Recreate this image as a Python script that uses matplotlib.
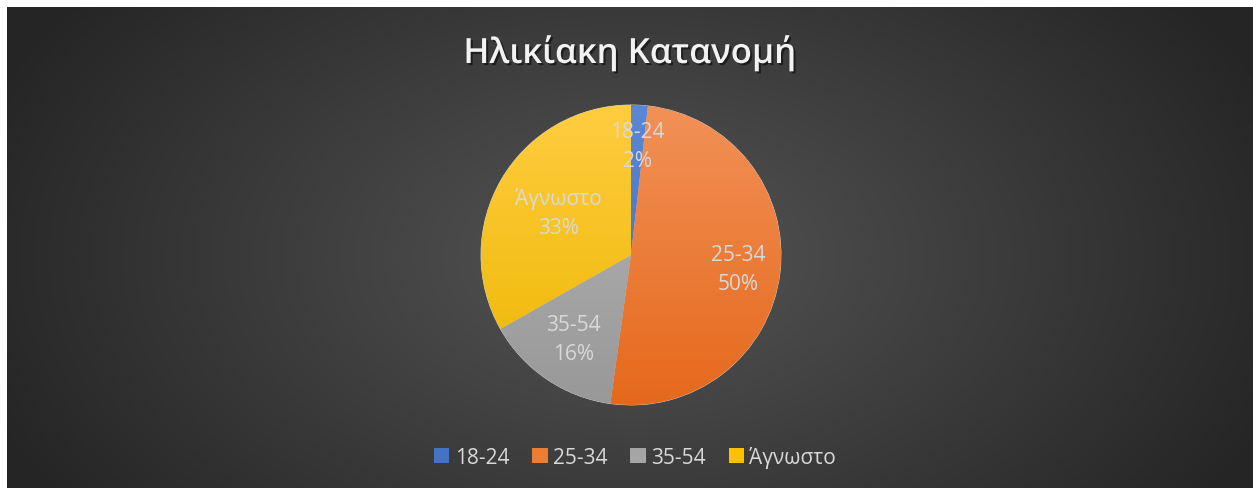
import numpy as np
import matplotlib
matplotlib.use("Agg")
import matplotlib.pyplot as plt
import matplotlib.patches as mpatches
import matplotlib.patheffects as pe
from matplotlib.colors import LinearSegmentedColormap

plt.rcParams["font.family"] = ["Open Sans", "DejaVu Sans"]

# data
age_groups = ["18-24", "25-34", "35-54", "Άγνωστο"]
shares = [1.8, 50.4, 14.6, 33.2]
pct_labels = ["2%", "50%", "16%", "33%"]

TITLE = "Ηλικίακη Κατανομή"
# light top -> dark bottom, Office style slice fills
SLICE_TOP = ["#5b88d6", "#f29157", "#b7b7b7", "#ffcd40"]
SLICE_BOTTOM = ["#3d68bb", "#e5691c", "#989898", "#ecb600"]
BASE = ["#4472c4", "#ed7d31", "#a5a5a5", "#ffc000"]
LABEL_DIST = [0.73, 0.72, 0.68, 0.56]
TEXT = "#d9d9d9"

W, H = 1253, 489
fig = plt.figure(figsize=(W / 100, H / 100), dpi=100, facecolor="white")

# radial dark background
bg = fig.add_axes([7 / W, 0, 1 - 7 / W, 1 - 8 / H])
bg.set_axis_off()
yy, xx = np.mgrid[0:H - 8, 0:W - 7]
cx, cy = 625, 250
r = np.sqrt(((xx - cx) / 700.0) ** 2 + ((yy - cy) / 430.0) ** 2)
r = np.clip(r, 0, 1)
c0, c1 = 0x55 / 255, 0x25 / 255
shade = c0 + (c1 - c0) * r
bg.imshow(np.dstack([shade] * 3), aspect="auto", extent=(0, 1, 0, 1))
bg.set_xlim(0, 1)
bg.set_ylim(0, 1)

# pie
ax = fig.add_axes([481 / W, (H - 406) / H, 300 / W, 300 / H])
wedges, _ = ax.pie(shares, colors=BASE, startangle=90, counterclock=False,
                   radius=1.0, wedgeprops=dict(linewidth=0.6, edgecolor="#d0d0d0"))
grad = np.linspace(0, 1, 256).reshape(-1, 1)
for w, top, bot in zip(wedges, SLICE_TOP, SLICE_BOTTOM):
    cmap = LinearSegmentedColormap.from_list("g", [top, bot])
    im = ax.imshow(grad, cmap=cmap, extent=(-1, 1, -1, 1), aspect="auto",
                   origin="upper", zorder=w.get_zorder() + 0.1)
    im.set_clip_path(w)

for w, name, pct, d in zip(wedges, age_groups, pct_labels, LABEL_DIST):
    ang = np.deg2rad((w.theta1 + w.theta2) / 2)
    ax.text(d * np.cos(ang), d * np.sin(ang), f"{name}\n{pct}", ha="center", va="center",
            fontsize=15, color=TEXT, linespacing=1.5, zorder=5)
ax.set_xlim(-1, 1)
ax.set_ylim(-1, 1)
ax.set_axis_off()

# title
fig.text(630 / W, 1 - 54 / H, TITLE, ha="center", va="center", fontsize=25,
         fontweight="semibold", color="#f2f2f2",
         path_effects=[pe.withSimplePatchShadow(offset=(1.5, -1.5), shadow_rgbFace="black", alpha=0.5)])

# legend
handles = [mpatches.Patch(facecolor=c, edgecolor="none") for c in BASE]
fig.legend(handles, age_groups, loc="center", bbox_to_anchor=(635 / W, 1 - 458 / H),
           ncol=4, frameon=False, fontsize=15, labelcolor=TEXT, handlelength=0.75,
           handleheight=0.75, handletextpad=0.25, columnspacing=1.1)

fig.savefig("out.png", dpi=100, facecolor="white")
